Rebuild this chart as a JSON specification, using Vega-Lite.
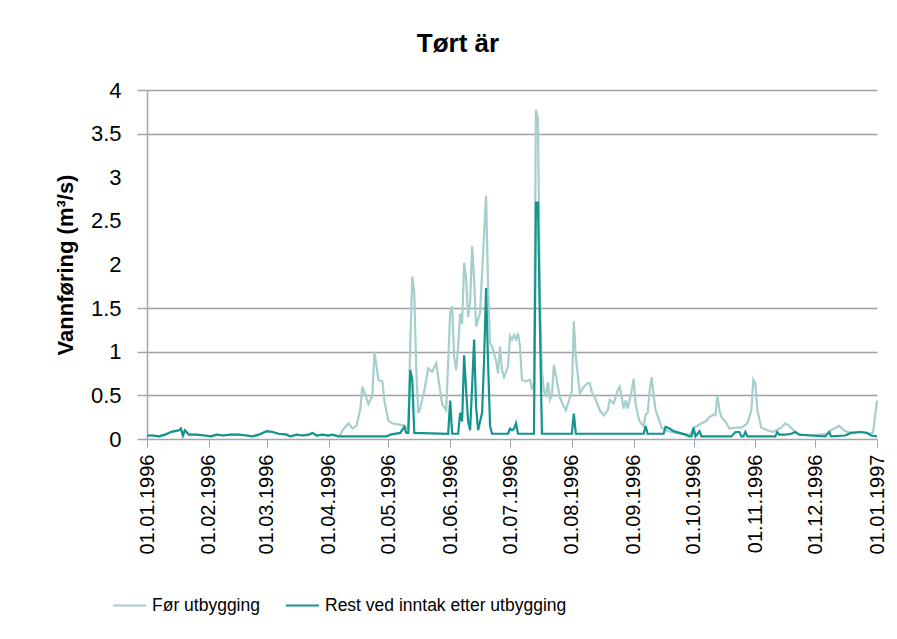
{
  "$schema": "https://vega.github.io/schema/vega-lite/v6.json",
  "width": 730,
  "height": 349,
  "autosize": "none",
  "padding": {"left": 147, "top": 90, "right": 20, "bottom": 200},
  "background": "white",
  "config": {"view": {"stroke": null}, "font": "Liberation Sans"},
  "title": {"text": "Tørt är", "font": "Liberation Sans", "fontSize": 26, "fontWeight": "bold", "color": "#000000", "anchor": "middle", "frame": "group", "dx": -54, "offset": 22},
  "datasets": {
    "before": [
      {"d":"1996-01-01","v":0.04},{"d":"1996-01-04","v":0.04},{"d":"1996-01-07","v":0.03},{"d":"1996-01-10","v":0.05},{"d":"1996-01-13","v":0.08},{"d":"1996-01-15","v":0.09},{"d":"1996-01-17","v":0.10},{"d":"1996-01-18","v":0.12},{"d":"1996-01-19","v":0.04},{"d":"1996-01-20","v":0.10},{"d":"1996-01-22","v":0.05},{"d":"1996-01-26","v":0.05},{"d":"1996-01-30","v":0.04},
      {"d":"1996-02-02","v":0.03},{"d":"1996-02-05","v":0.05},{"d":"1996-02-08","v":0.04},{"d":"1996-02-12","v":0.05},{"d":"1996-02-16","v":0.05},{"d":"1996-02-20","v":0.04},{"d":"1996-02-23","v":0.03},{"d":"1996-02-26","v":0.05},
      {"d":"1996-03-01","v":0.09},{"d":"1996-03-04","v":0.08},{"d":"1996-03-07","v":0.06},{"d":"1996-03-11","v":0.05},{"d":"1996-03-13","v":0.03},{"d":"1996-03-16","v":0.05},{"d":"1996-03-19","v":0.04},{"d":"1996-03-22","v":0.05},{"d":"1996-03-24","v":0.07},{"d":"1996-03-26","v":0.04},{"d":"1996-03-29","v":0.05},
      {"d":"1996-04-01","v":0.04},{"d":"1996-04-03","v":0.05},{"d":"1996-04-06","v":0.03},{"d":"1996-04-07","v":0.05},{"d":"1996-04-08","v":0.10},{"d":"1996-04-11","v":0.18},{"d":"1996-04-13","v":0.12},{"d":"1996-04-15","v":0.15},{"d":"1996-04-17","v":0.35},{"d":"1996-04-18","v":0.60},{"d":"1996-04-21","v":0.40},{"d":"1996-04-23","v":0.50},{"d":"1996-04-24","v":1.00},{"d":"1996-04-26","v":0.68},{"d":"1996-04-28","v":0.66},{"d":"1996-04-29","v":0.44},
      {"d":"1996-05-01","v":0.21},{"d":"1996-05-03","v":0.18},{"d":"1996-05-05","v":0.17},{"d":"1996-05-08","v":0.16},{"d":"1996-05-09","v":0.15},{"d":"1996-05-11","v":0.12},{"d":"1996-05-12","v":1.10},{"d":"1996-05-13","v":1.86},{"d":"1996-05-14","v":1.68},{"d":"1996-05-15","v":0.79},{"d":"1996-05-16","v":0.30},{"d":"1996-05-17","v":0.35},{"d":"1996-05-19","v":0.55},{"d":"1996-05-21","v":0.81},{"d":"1996-05-23","v":0.77},{"d":"1996-05-25","v":0.87},{"d":"1996-05-27","v":0.55},{"d":"1996-05-28","v":0.40},{"d":"1996-05-30","v":0.33},
      {"d":"1996-06-01","v":1.45},{"d":"1996-06-02","v":1.52},{"d":"1996-06-03","v":0.94},{"d":"1996-06-04","v":0.79},{"d":"1996-06-05","v":1.06},{"d":"1996-06-06","v":1.44},{"d":"1996-06-07","v":1.32},{"d":"1996-06-08","v":2.02},{"d":"1996-06-09","v":1.83},{"d":"1996-06-10","v":1.40},{"d":"1996-06-11","v":1.56},{"d":"1996-06-12","v":2.21},{"d":"1996-06-13","v":1.83},{"d":"1996-06-14","v":1.29},{"d":"1996-06-16","v":1.45},{"d":"1996-06-17","v":1.90},{"d":"1996-06-19","v":2.79},{"d":"1996-06-20","v":1.75},{"d":"1996-06-21","v":1.10},{"d":"1996-06-22","v":1.06},{"d":"1996-06-24","v":0.90},{"d":"1996-06-25","v":0.75},{"d":"1996-06-26","v":1.06},{"d":"1996-06-27","v":0.79},{"d":"1996-06-28","v":0.71},{"d":"1996-06-30","v":0.83},
      {"d":"1996-07-01","v":1.18},{"d":"1996-07-02","v":1.14},{"d":"1996-07-03","v":1.19},{"d":"1996-07-04","v":1.14},{"d":"1996-07-05","v":1.21},{"d":"1996-07-06","v":1.06},{"d":"1996-07-07","v":0.68},{"d":"1996-07-09","v":0.66},{"d":"1996-07-11","v":0.68},{"d":"1996-07-12","v":0.58},{"d":"1996-07-13","v":0.63},{"d":"1996-07-14","v":3.77},{"d":"1996-07-15","v":3.67},{"d":"1996-07-16","v":1.64},{"d":"1996-07-17","v":0.79},{"d":"1996-07-18","v":0.55},{"d":"1996-07-19","v":0.50},{"d":"1996-07-20","v":0.65},{"d":"1996-07-21","v":0.45},{"d":"1996-07-22","v":0.50},{"d":"1996-07-23","v":0.85},{"d":"1996-07-25","v":0.60},{"d":"1996-07-26","v":0.48},{"d":"1996-07-28","v":0.37},{"d":"1996-07-29","v":0.33},{"d":"1996-07-30","v":0.40},
      {"d":"1996-08-01","v":0.55},{"d":"1996-08-02","v":1.35},{"d":"1996-08-03","v":0.94},{"d":"1996-08-05","v":0.52},{"d":"1996-08-07","v":0.60},{"d":"1996-08-09","v":0.64},{"d":"1996-08-10","v":0.64},{"d":"1996-08-11","v":0.54},{"d":"1996-08-13","v":0.45},{"d":"1996-08-15","v":0.33},{"d":"1996-08-17","v":0.27},{"d":"1996-08-19","v":0.33},{"d":"1996-08-20","v":0.45},{"d":"1996-08-22","v":0.41},{"d":"1996-08-24","v":0.56},{"d":"1996-08-25","v":0.60},{"d":"1996-08-27","v":0.35},{"d":"1996-08-28","v":0.44},{"d":"1996-08-29","v":0.35},{"d":"1996-08-30","v":0.45},{"d":"1996-08-31","v":0.55},
      {"d":"1996-09-01","v":0.69},{"d":"1996-09-02","v":0.40},{"d":"1996-09-03","v":0.29},{"d":"1996-09-04","v":0.20},{"d":"1996-09-06","v":0.15},{"d":"1996-09-07","v":0.28},{"d":"1996-09-08","v":0.30},{"d":"1996-09-09","v":0.55},{"d":"1996-09-10","v":0.71},{"d":"1996-09-11","v":0.50},{"d":"1996-09-12","v":0.33},{"d":"1996-09-14","v":0.20},{"d":"1996-09-15","v":0.13},{"d":"1996-09-17","v":0.10},{"d":"1996-09-20","v":0.08},{"d":"1996-09-24","v":0.06},{"d":"1996-09-29","v":0.05},{"d":"1996-09-30","v":0.07},
      {"d":"1996-10-01","v":0.13},{"d":"1996-10-03","v":0.15},{"d":"1996-10-05","v":0.18},{"d":"1996-10-07","v":0.20},{"d":"1996-10-09","v":0.25},{"d":"1996-10-11","v":0.28},{"d":"1996-10-12","v":0.27},{"d":"1996-10-13","v":0.50},{"d":"1996-10-14","v":0.33},{"d":"1996-10-15","v":0.25},{"d":"1996-10-17","v":0.20},{"d":"1996-10-19","v":0.12},{"d":"1996-10-22","v":0.13},{"d":"1996-10-25","v":0.13},{"d":"1996-10-28","v":0.18},{"d":"1996-10-30","v":0.33},{"d":"1996-10-31","v":0.68},
      {"d":"1996-11-01","v":0.64},{"d":"1996-11-02","v":0.33},{"d":"1996-11-04","v":0.13},{"d":"1996-11-07","v":0.10},{"d":"1996-11-10","v":0.08},{"d":"1996-11-14","v":0.13},{"d":"1996-11-16","v":0.18},{"d":"1996-11-18","v":0.15},{"d":"1996-11-21","v":0.08},{"d":"1996-11-23","v":0.05},{"d":"1996-11-29","v":0.04},
      {"d":"1996-12-07","v":0.06},{"d":"1996-12-09","v":0.10},{"d":"1996-12-13","v":0.15},{"d":"1996-12-16","v":0.09},{"d":"1996-12-19","v":0.07},{"d":"1996-12-24","v":0.08},{"d":"1996-12-28","v":0.06},{"d":"1996-12-30","v":0.07},{"d":"1996-12-31","v":0.25},{"d":"1997-01-01","v":0.44}
    ],
    "after": [
      {"d":"1996-01-01","v":0.04},{"d":"1996-01-04","v":0.04},{"d":"1996-01-07","v":0.03},{"d":"1996-01-10","v":0.05},{"d":"1996-01-13","v":0.08},{"d":"1996-01-15","v":0.09},{"d":"1996-01-17","v":0.10},{"d":"1996-01-18","v":0.12},{"d":"1996-01-19","v":0.04},{"d":"1996-01-20","v":0.10},{"d":"1996-01-22","v":0.05},{"d":"1996-01-26","v":0.05},{"d":"1996-01-30","v":0.04},
      {"d":"1996-02-02","v":0.03},{"d":"1996-02-05","v":0.05},{"d":"1996-02-08","v":0.04},{"d":"1996-02-12","v":0.05},{"d":"1996-02-16","v":0.05},{"d":"1996-02-20","v":0.04},{"d":"1996-02-23","v":0.03},{"d":"1996-02-26","v":0.05},
      {"d":"1996-03-01","v":0.09},{"d":"1996-03-04","v":0.08},{"d":"1996-03-07","v":0.06},{"d":"1996-03-11","v":0.05},{"d":"1996-03-13","v":0.03},{"d":"1996-03-16","v":0.05},{"d":"1996-03-19","v":0.04},{"d":"1996-03-22","v":0.05},{"d":"1996-03-24","v":0.07},{"d":"1996-03-26","v":0.04},{"d":"1996-03-29","v":0.05},
      {"d":"1996-04-01","v":0.04},{"d":"1996-04-03","v":0.05},{"d":"1996-04-06","v":0.03},{"d":"1996-04-07","v":0.03},{"d":"1996-04-30","v":0.03},
      {"d":"1996-05-02","v":0.05},{"d":"1996-05-07","v":0.07},{"d":"1996-05-09","v":0.14},{"d":"1996-05-10","v":0.07},{"d":"1996-05-11","v":0.07},{"d":"1996-05-12","v":0.79},{"d":"1996-05-13","v":0.68},{"d":"1996-05-14","v":0.07},{"d":"1996-05-31","v":0.06},
      {"d":"1996-06-01","v":0.44},{"d":"1996-06-02","v":0.06},{"d":"1996-06-05","v":0.06},{"d":"1996-06-06","v":0.30},{"d":"1996-06-07","v":0.20},{"d":"1996-06-08","v":0.96},{"d":"1996-06-09","v":0.56},{"d":"1996-06-10","v":0.20},{"d":"1996-06-11","v":0.10},{"d":"1996-06-12","v":0.60},{"d":"1996-06-13","v":1.14},{"d":"1996-06-14","v":0.37},{"d":"1996-06-15","v":0.10},{"d":"1996-06-16","v":0.20},{"d":"1996-06-17","v":0.30},{"d":"1996-06-18","v":0.90},{"d":"1996-06-19","v":1.73},{"d":"1996-06-20","v":0.87},{"d":"1996-06-21","v":0.15},{"d":"1996-06-22","v":0.06},{"d":"1996-06-30","v":0.06},
      {"d":"1996-07-01","v":0.12},{"d":"1996-07-02","v":0.10},{"d":"1996-07-03","v":0.12},{"d":"1996-07-04","v":0.18},{"d":"1996-07-05","v":0.06},{"d":"1996-07-13","v":0.06},{"d":"1996-07-14","v":2.71},{"d":"1996-07-15","v":2.71},{"d":"1996-07-16","v":1.30},{"d":"1996-07-17","v":0.06},
      {"d":"1996-08-01","v":0.06},{"d":"1996-08-02","v":0.29},{"d":"1996-08-03","v":0.06},
      {"d":"1996-09-06","v":0.06},{"d":"1996-09-07","v":0.15},{"d":"1996-09-08","v":0.06},{"d":"1996-09-16","v":0.06},{"d":"1996-09-17","v":0.14},{"d":"1996-09-19","v":0.12},{"d":"1996-09-21","v":0.09},{"d":"1996-09-24","v":0.07},{"d":"1996-09-27","v":0.05},{"d":"1996-09-29","v":0.03},{"d":"1996-09-30","v":0.03},
      {"d":"1996-10-01","v":0.13},{"d":"1996-10-02","v":0.03},{"d":"1996-10-03","v":0.06},{"d":"1996-10-04","v":0.09},{"d":"1996-10-05","v":0.03},{"d":"1996-10-20","v":0.03},{"d":"1996-10-22","v":0.08},{"d":"1996-10-24","v":0.08},{"d":"1996-10-25","v":0.03},{"d":"1996-10-26","v":0.03},{"d":"1996-10-27","v":0.08},{"d":"1996-10-28","v":0.03},
      {"d":"1996-11-11","v":0.03},{"d":"1996-11-12","v":0.08},{"d":"1996-11-13","v":0.05},{"d":"1996-11-16","v":0.05},{"d":"1996-11-19","v":0.06},{"d":"1996-11-21","v":0.08},{"d":"1996-11-23","v":0.05},{"d":"1996-11-29","v":0.04},
      {"d":"1996-12-06","v":0.03},{"d":"1996-12-08","v":0.08},{"d":"1996-12-09","v":0.03},{"d":"1996-12-16","v":0.04},{"d":"1996-12-19","v":0.07},{"d":"1996-12-24","v":0.08},{"d":"1996-12-27","v":0.07},{"d":"1996-12-29","v":0.04},{"d":"1997-01-01","v":0.03}
    ]
  },
  "encoding": {
    "x": {
      "field": "d", "type": "temporal",
      "scale": {"type": "utc", "nice": false, "domain": [{"year": 1996, "month": 1, "date": 1, "utc": true}, {"year": 1997, "month": 1, "date": 1, "utc": true}]},
      "axis": {
        "title": null,
        "values": [
          {"year": 1996, "month": 1, "date": 1, "utc": true},
          {"year": 1996, "month": 2, "date": 1, "utc": true},
          {"year": 1996, "month": 3, "date": 1, "utc": true},
          {"year": 1996, "month": 4, "date": 1, "utc": true},
          {"year": 1996, "month": 5, "date": 1, "utc": true},
          {"year": 1996, "month": 6, "date": 1, "utc": true},
          {"year": 1996, "month": 7, "date": 1, "utc": true},
          {"year": 1996, "month": 8, "date": 1, "utc": true},
          {"year": 1996, "month": 9, "date": 1, "utc": true},
          {"year": 1996, "month": 10, "date": 1, "utc": true},
          {"year": 1996, "month": 11, "date": 1, "utc": true},
          {"year": 1996, "month": 12, "date": 1, "utc": true},
          {"year": 1997, "month": 1, "date": 1, "utc": true}
        ],
        "format": "%d.%m.%Y",
        "labelAngle": -90,
        "labelAlign": "right",
        "labelBaseline": "middle",
        "labelFont": "Liberation Sans",
        "labelFontSize": 20,
        "labelColor": "#000000",
        "labelOverlap": false,
        "labelFlush": false,
        "labelPadding": 7,
        "tickSize": 8,
        "tickColor": "#a6a6a6",
        "domainColor": "#a6a6a6",
        "domainWidth": 1.5,
        "grid": false
      }
    },
    "y": {
      "field": "v", "type": "quantitative",
      "scale": {"domain": [0, 4], "nice": false, "zero": true},
      "axis": {
        "title": "Vannføring (m³/s)",
        "titleFont": "Liberation Sans",
        "titleFontSize": 22,
        "titleFontWeight": "bold",
        "titleColor": "#000000",
        "titlePadding": 13,
        "values": [0, 0.5, 1, 1.5, 2, 2.5, 3, 3.5, 4],
        "format": "~g",
        "labelFont": "Liberation Sans",
        "labelFontSize": 22,
        "labelColor": "#000000",
        "labelPadding": 16,
        "tickSize": 10,
        "tickColor": {"condition": {"test": "datum.value >= 2 && datum.value <= 3", "value": "transparent"}, "value": "#a6a6a6"},
        "tickWidth": 1.5,
        "domainColor": "#a6a6a6",
        "domainWidth": 1.5,
        "grid": true,
        "gridWidth": 1.5,
        "gridColor": {"condition": {"test": "(datum.value >= 2 && datum.value <= 3) || datum.value == 0", "value": "transparent"}, "value": "#a0a0a0"}
      }
    }
  },
  "layer": [
    {
      "data": {"name": "before"},
      "mark": {"type": "line", "strokeWidth": 2.2},
      "encoding": {
        "color": {
          "datum": "Før utbygging", "type": "nominal",
          "scale": {"domain": ["Før utbygging", "Rest ved inntak etter utbygging"], "range": ["#a5cfcd", "#14948f"]},
          "legend": {"orient": "none", "legendX": -35, "legendY": 498, "direction": "horizontal", "title": null, "symbolType": "stroke", "symbolSize": 1089, "symbolStrokeWidth": 2, "labelFont": "Liberation Sans", "labelFontSize": 17.5, "labelColor": "#000000", "labelLimit": 0, "columnPadding": 22, "labelOffset": 5}
        }
      }
    },
    {
      "data": {"name": "after"},
      "mark": {"type": "line", "strokeWidth": 2.2},
      "encoding": {
        "color": {
          "datum": "Rest ved inntak etter utbygging", "type": "nominal",
          "scale": {"domain": ["Før utbygging", "Rest ved inntak etter utbygging"], "range": ["#a5cfcd", "#14948f"]},
          "legend": {"orient": "none", "legendX": -35, "legendY": 498, "direction": "horizontal", "title": null, "symbolType": "stroke", "symbolSize": 1089, "symbolStrokeWidth": 2, "labelFont": "Liberation Sans", "labelFontSize": 17.5, "labelColor": "#000000", "labelLimit": 0, "columnPadding": 22, "labelOffset": 5}
        }
      }
    }
  ]
}
